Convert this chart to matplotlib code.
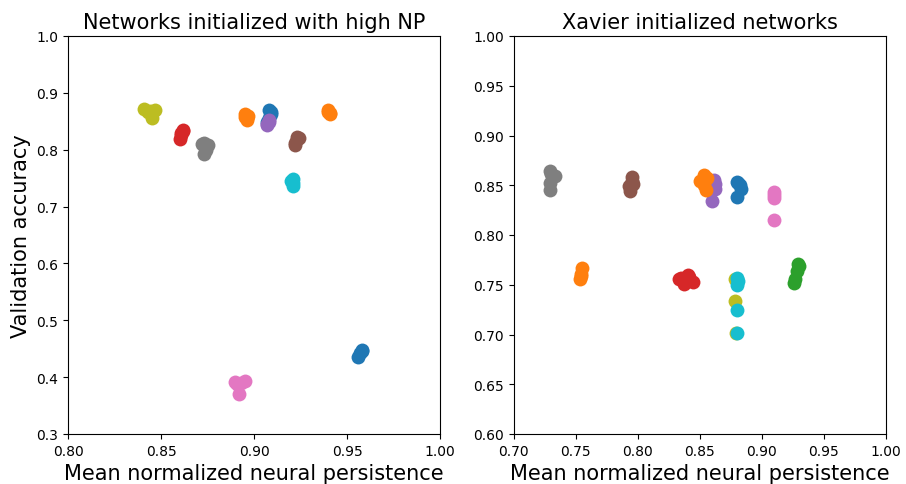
import matplotlib
matplotlib.use("Agg")
import matplotlib.pyplot as plt
import numpy as np

# ---- Left panel: networks initialized with high NP ----
left_colors = ["tab:blue", "tab:orange", "tab:red", "tab:purple", "tab:brown",
               "tab:pink", "tab:gray", "tab:olive", "tab:cyan", "tab:orange", "tab:blue"]
left_x = [
    [0.908, 0.909, 0.909, 0.908, 0.907],
    [0.895, 0.896, 0.895, 0.897, 0.896],
    [0.862, 0.860, 0.861, 0.861, 0.862],
    [0.908, 0.907, 0.908, 0.907],
    [0.923, 0.922, 0.923, 0.924, 0.922],
    [0.890, 0.895, 0.892, 0.891, 0.893],
    [0.873, 0.875, 0.873, 0.874, 0.872],
    [0.841, 0.847, 0.844, 0.845, 0.843],
    [0.921, 0.921, 0.921, 0.920],
    [0.940, 0.941, 0.940, 0.941],
    [0.958, 0.956, 0.957, 0.958],
]
left_y = [
    [0.870, 0.862, 0.866, 0.855, 0.848],
    [0.862, 0.852, 0.858, 0.860, 0.855],
    [0.835, 0.818, 0.826, 0.830, 0.833],
    [0.852, 0.845, 0.848, 0.843],
    [0.823, 0.809, 0.818, 0.821, 0.812],
    [0.392, 0.393, 0.370, 0.388, 0.390],
    [0.812, 0.808, 0.793, 0.800, 0.810],
    [0.871, 0.869, 0.868, 0.855, 0.866],
    [0.748, 0.736, 0.742, 0.745],
    [0.870, 0.865, 0.867, 0.863],
    [0.448, 0.436, 0.442, 0.446],
]

# ---- Right panel: Xavier initialized networks ----
right_colors = ["tab:blue", "tab:orange", "tab:green", "tab:red", "tab:purple",
                "tab:brown", "tab:pink", "tab:gray", "tab:olive", "tab:cyan", "tab:orange"]
right_x = [
    [0.880, 0.883, 0.880, 0.882, 0.881],
    [0.755, 0.753, 0.754, 0.754],
    [0.929, 0.927, 0.928, 0.926, 0.930],
    [0.833, 0.841, 0.837, 0.844, 0.835, 0.840],
    [0.861, 0.862, 0.860, 0.862],
    [0.795, 0.796, 0.794, 0.793, 0.795],
    [0.910, 0.910, 0.910, 0.910],
    [0.729, 0.733, 0.729, 0.729, 0.730],
    [0.878, 0.878, 0.879],
    [0.880, 0.880, 0.880, 0.880, 0.881],
    [0.853, 0.850, 0.855, 0.853, 0.856],
]
right_y = [
    [0.853, 0.846, 0.838, 0.850, 0.852],
    [0.767, 0.756, 0.761, 0.759],
    [0.771, 0.756, 0.764, 0.752, 0.769],
    [0.756, 0.758, 0.751, 0.753, 0.757, 0.760],
    [0.855, 0.846, 0.834, 0.851],
    [0.858, 0.851, 0.844, 0.849, 0.854],
    [0.843, 0.837, 0.815, 0.840],
    [0.864, 0.859, 0.852, 0.845, 0.861],
    [0.756, 0.734, 0.702],
    [0.757, 0.750, 0.725, 0.702, 0.754],
    [0.860, 0.854, 0.845, 0.850, 0.857],
]

left_xticks = [0.80, 0.85, 0.90, 0.95, 1.00]
left_yticks = [0.3, 0.4, 0.5, 0.6, 0.7, 0.8, 0.9, 1.0]
right_xticks = [0.70, 0.75, 0.80, 0.85, 0.90, 0.95, 1.00]
right_yticks = [0.60, 0.65, 0.70, 0.75, 0.80, 0.85, 0.90, 0.95, 1.00]

fig, (ax1, ax2) = plt.subplots(1, 2, figsize=(9.06, 4.85), dpi=100)
fig.subplots_adjust(left=68/906, right=886/906, top=1-37/485, bottom=1-435/485,
                    wspace=74/373)

S = 100
for c, xs, ys in zip(left_colors, left_x, left_y):
    ax1.scatter(xs, ys, s=S, color=c, linewidths=0)
for c, xs, ys in zip(right_colors, right_x, right_y):
    ax2.scatter(xs, ys, s=S, color=c, linewidths=0)

ax1.set_xlim(0.80, 1.00)
ax1.set_ylim(0.3, 1.0)
ax1.set_xticks(left_xticks)
ax1.set_xticklabels([f"{v:.2f}" for v in left_xticks])
ax1.set_yticks(left_yticks)
ax1.set_yticklabels([f"{v:.1f}" for v in left_yticks])
ax1.set_title("Networks initialized with high NP", fontsize=15)
ax1.set_xlabel("Mean normalized neural persistence", fontsize=15)
ax1.set_ylabel("Validation accuracy", fontsize=15)

ax2.set_xlim(0.70, 1.00)
ax2.set_ylim(0.60, 1.00)
ax2.set_xticks(right_xticks)
ax2.set_xticklabels([f"{v:.2f}" for v in right_xticks])
ax2.set_yticks(right_yticks)
ax2.set_yticklabels([f"{v:.2f}" for v in right_yticks])
ax2.set_title("Xavier initialized networks", fontsize=15)
ax2.set_xlabel("Mean normalized neural persistence", fontsize=15)

for ax in (ax1, ax2):
    ax.tick_params(labelsize=10)

fig.savefig("out.png", dpi=100)
